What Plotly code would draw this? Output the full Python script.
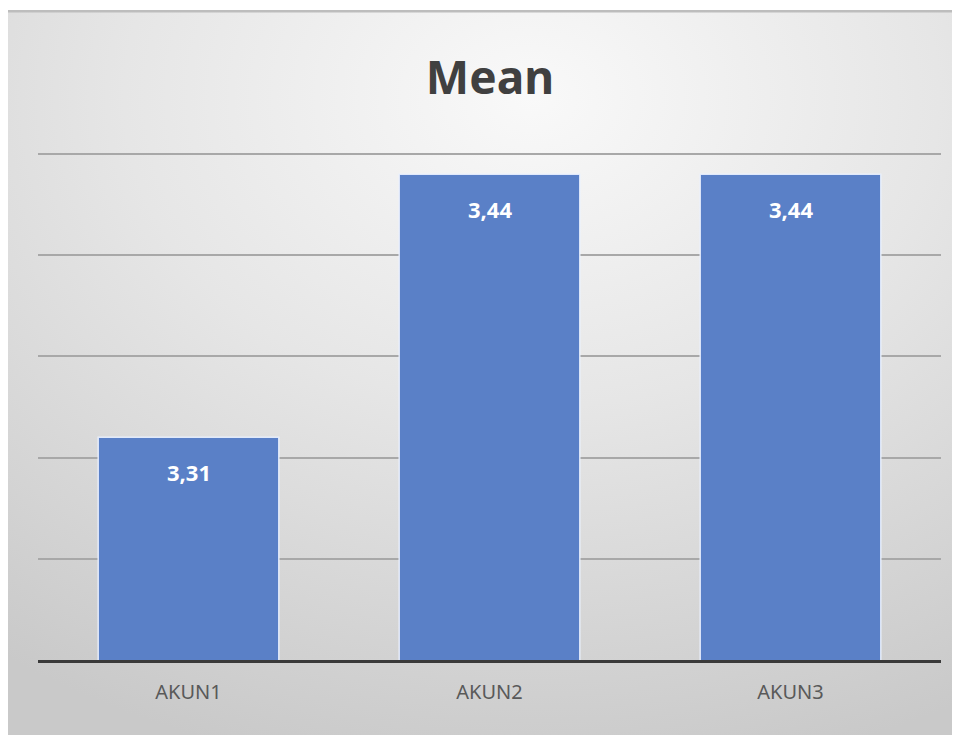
import plotly.graph_objects as go
import base64

categories = ["AKUN1", "AKUN2", "AKUN3"]
values = [3.31, 3.44, 3.44]
title_text = "Mean"

# page has an 8px body margin; compensate so the picture lands where the reference is
OFF = 8
W, H = 960 - OFF, 736 - OFF
L, R, T, B = 38 - OFF, W - (941 - OFF), 153 - OFF, H - (660 - OFF)
pw, ph = W - L - R, H - T - B

bx0, by0, bx1, by1 = 8 - OFF, 10 - OFF, 960 - OFF, 735 - OFF
svg = f"""<svg xmlns='http://www.w3.org/2000/svg' width='{bx1-bx0}' height='{by1-by0}' viewBox='0 0 {bx1-bx0} {by1-by0}' preserveAspectRatio='none'>
<defs><radialGradient id='g' cx='0.55' cy='0.12' r='0.95' gradientUnits='objectBoundingBox'>
<stop offset='0' stop-color='#f9f9f9'/><stop offset='0.45' stop-color='#e6e6e6'/><stop offset='1' stop-color='#c9c9c9'/></radialGradient></defs>
<rect x='0' y='0' width='{bx1-bx0}' height='{by1-by0}' fill='url(#g)'/>
<rect x='0' y='0' width='{bx1-bx0}' height='2.5' fill='#bdbdbd'/>
</svg>"""
uri = "data:image/svg+xml;base64," + base64.b64encode(svg.encode()).decode()

fig = go.Figure()
fig.add_trace(go.Bar(
    x=categories, y=values,
    marker=dict(color="#5a80c7", line=dict(color="rgba(235,242,255,0.9)", width=1.5)),
    hoverinfo="skip",
))

for c, v in zip(categories, values):
    fig.add_annotation(x=c, y=v, text=f"{v:.2f}".replace(".", ","), showarrow=False,
                       yanchor="middle", yshift=-35,
                       font=dict(family="Noto Sans", size=22, color="white", weight="bold"))

fig.add_layout_image(dict(
    source=uri, xref="paper", yref="paper",
    x=(bx0 - L) / pw, y=1 + (T - by0) / ph,
    sizex=(bx1 - bx0) / pw, sizey=(by1 - by0) / ph,
    xanchor="left", yanchor="top", sizing="stretch", layer="below",
))

fig.update_layout(
    width=W, height=H,
    margin=dict(l=L, r=R, t=T, b=B),
    paper_bgcolor="white", plot_bgcolor="rgba(0,0,0,0)",
    showlegend=False,
    bargap=0.4,
    title=dict(text=f"<b>{title_text}</b>", x=(490 - OFF) / W, xanchor="center", y=1 - (78 - OFF) / H,
               yanchor="middle",
               font=dict(family="Noto Sans", size=46, color="#404040")),
    xaxis=dict(showline=True, linecolor="#3a3a3a", linewidth=3, showgrid=False,
               tickfont=dict(family="Noto Sans", size=20, color="#595959"),
               ticklabelstandoff=12),
    yaxis=dict(range=[3.2, 3.4505], dtick=0.05, tick0=3.2, showticklabels=False,
               showgrid=True, gridcolor="#a8a8a8", gridwidth=1.5, zeroline=False, showline=False),
)

fig.write_html("out.html")
